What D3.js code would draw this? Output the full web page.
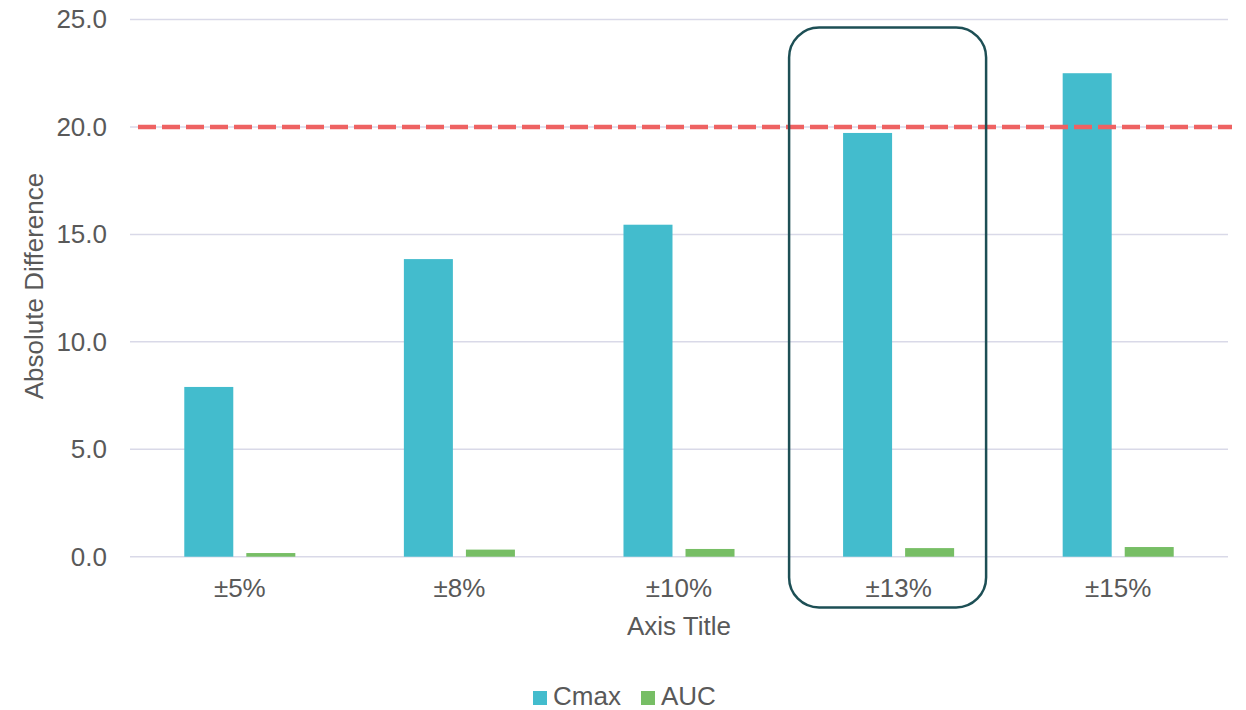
<!DOCTYPE html>
<html><head><meta charset="utf-8">
<script src="https://cdn.jsdelivr.net/npm/d3@7"></script>
<style>body{margin:0;background:#fff}svg{display:block;font-family:"Liberation Sans",Arial,sans-serif}</style>
</head><body><svg id="c" width="1246" height="710"></svg>
<script>
const categories = ["±5%","±8%","±10%","±13%","±15%"];
const cmax = [7.9, 13.85, 15.45, 19.72, 22.5];
const auc = [0.17, 0.33, 0.36, 0.4, 0.45];
const seriesNames = ["Cmax","AUC"];
const yTicks = [0,5,10,15,20,25];
const threshold = 20;
const highlight = "±13%";

const FONT = "Liberation Sans, Arial, sans-serif";
const TXT = "#595959";
const svg = d3.select("#c");
const L=130, R=1228, T=19.5, B=556.7;
const x = d3.scaleBand().domain(categories).range([L,R]);
const y = d3.scaleLinear().domain([0,25]).range([B,T]);
const colors = {Cmax:"#43BCCD", AUC:"#77BE65"};
const sub = d3.scaleBand().domain(seriesNames).range([0,x.bandwidth()]).paddingInner(0.21).paddingOuter(0.875);

// gridlines
svg.append("g").selectAll("line").data(yTicks).join("line")
  .attr("x1",L).attr("x2",R).attr("y1",d=>y(d)).attr("y2",d=>y(d))
  .attr("stroke","#D9D9E8").attr("stroke-width",1.5);

// y axis labels
const yAxis = d3.axisLeft(y).tickValues(yTicks).tickFormat(d3.format(".1f")).tickSize(0).tickPadding(0);
const gy = svg.append("g").attr("transform",`translate(107,0)`).call(yAxis)
  .attr("font-size",26).attr("font-family",FONT);
gy.select(".domain").remove();
gy.selectAll("text").attr("fill",TXT);

// bars
const data = [];
categories.forEach((c,i)=>{data.push({c,s:"Cmax",v:cmax[i]});data.push({c,s:"AUC",v:auc[i]});});
svg.append("g").selectAll("rect").data(data).join("rect")
  .attr("x",d=>x(d.c)+sub(d.s)).attr("width",sub.bandwidth())
  .attr("y",d=>y(d.v)).attr("height",d=>y(0)-y(d.v))
  .attr("fill",d=>colors[d.s]);

// x axis labels
const xAxis = d3.axisBottom(x).tickSize(0).tickPadding(0);
const gx = svg.append("g").attr("transform",`translate(0,0)`).call(xAxis)
  .attr("font-size",26).attr("font-family",FONT);
gx.select(".domain").remove();
gx.selectAll("text").attr("fill",TXT).attr("y",597).attr("dy",null);

// threshold line
svg.append("line").attr("x1",L+8).attr("x2",1232).attr("y1",y(threshold)).attr("y2",y(threshold))
  .attr("stroke","#EE6262").attr("stroke-width",4.5).attr("stroke-dasharray","18,6");

// highlight box
const hx = x(highlight)+x.bandwidth()/2;
svg.append("rect").attr("x",hx-109.5).attr("y",27.5).attr("width",197).attr("height",580)
  .attr("rx",30).attr("ry",30).attr("fill","none").attr("stroke","#1D4F55").attr("stroke-width",2.5);

// axis titles
svg.append("text").attr("x",(L+R)/2).attr("y",635).attr("text-anchor","middle")
  .attr("font-size",26).attr("font-family",FONT).attr("fill",TXT).text("Axis Title");
svg.append("text").attr("transform",`translate(43,286) rotate(-90)`).attr("text-anchor","middle")
  .attr("font-size",26).attr("font-family",FONT).attr("fill",TXT).text("Absolute Difference");

// legend
const leg = svg.append("g");
const legItems = [{n:"Cmax",x:533},{n:"AUC",x:641}];
leg.selectAll("rect").data(legItems).join("rect")
  .attr("x",d=>d.x).attr("y",691).attr("width",14).attr("height",14).attr("fill",d=>colors[d.n]);
leg.selectAll("text").data(legItems).join("text")
  .attr("x",d=>d.x+20).attr("y",705).attr("font-size",26).attr("font-family",FONT).attr("fill",TXT).text(d=>d.n);
</script></body></html>
